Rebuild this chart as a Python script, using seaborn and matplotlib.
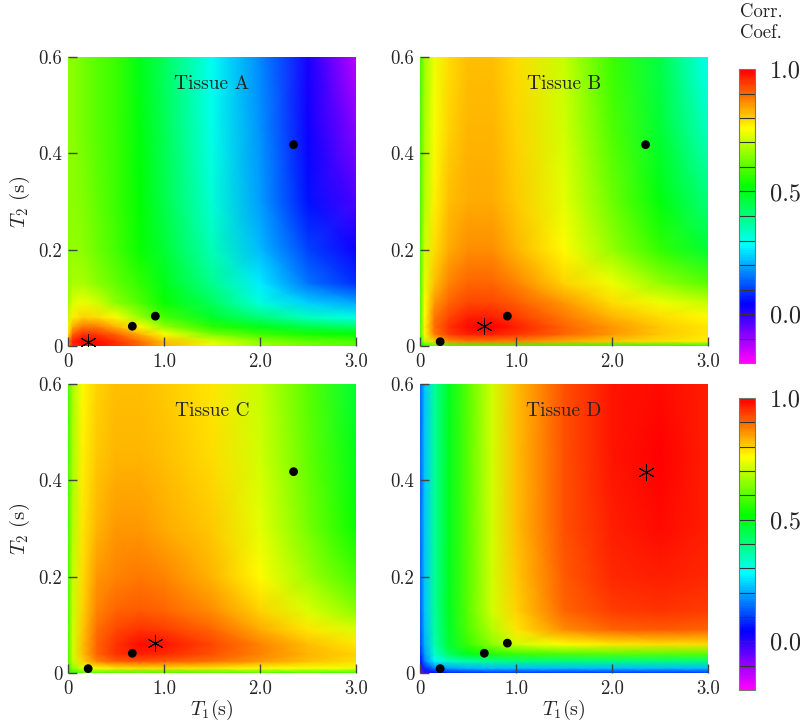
import numpy as np
import pandas as pd
import matplotlib
matplotlib.use("Agg")
import matplotlib.pyplot as plt
import seaborn as sns
from matplotlib.colors import ListedColormap, hsv_to_rgb

# ---------------- data ----------------
T1_GRID = [0, 0.05, 0.15, 0.3, 0.5, 0.75, 1.0, 1.5, 2.0, 2.5, 3.0]
T2_GRID = [0, 0.01, 0.025, 0.04, 0.06, 0.09, 0.13, 0.2, 0.3, 0.45, 0.6]

# rows follow T2_GRID (ascending), columns follow T1_GRID
CORR_A = [
    [0.85, 0.95, 0.98, 0.99, 0.96, 0.90, 0.83, 0.74, 0.67, 0.63, 0.60],
    [0.85, 0.97, 1.00, 0.99, 0.95, 0.89, 0.82, 0.72, 0.65, 0.61, 0.59],
    [0.78, 0.90, 0.95, 0.94, 0.90, 0.83, 0.75, 0.63, 0.57, 0.54, 0.52],
    [0.74, 0.84, 0.88, 0.88, 0.83, 0.76, 0.66, 0.55, 0.50, 0.45, 0.42],
    [0.70, 0.77, 0.80, 0.79, 0.75, 0.66, 0.58, 0.48, 0.40, 0.34, 0.30],
    [0.67, 0.72, 0.74, 0.71, 0.65, 0.59, 0.53, 0.43, 0.31, 0.24, 0.20],
    [0.66, 0.68, 0.68, 0.65, 0.61, 0.56, 0.50, 0.39, 0.26, 0.15, 0.09],
    [0.65, 0.66, 0.65, 0.62, 0.58, 0.53, 0.47, 0.35, 0.22, 0.10, 0.03],
    [0.65, 0.65, 0.64, 0.61, 0.57, 0.52, 0.45, 0.32, 0.19, 0.06, -0.03],
    [0.65, 0.65, 0.63, 0.60, 0.57, 0.51, 0.44, 0.30, 0.18, 0.03, -0.08],
    [0.65, 0.65, 0.63, 0.60, 0.57, 0.50, 0.43, 0.29, 0.17, 0.02, -0.13],
]
CORR_B = [
    [0.52, 0.56, 0.58, 0.58, 0.58, 0.58, 0.57, 0.56, 0.55, 0.55, 0.54],
    [0.56, 0.70, 0.80, 0.86, 0.88, 0.88, 0.87, 0.84, 0.81, 0.79, 0.77],
    [0.58, 0.76, 0.88, 0.94, 0.97, 0.97, 0.95, 0.90, 0.85, 0.81, 0.78],
    [0.58, 0.77, 0.89, 0.95, 0.99, 1.00, 0.97, 0.90, 0.85, 0.81, 0.78],
    [0.58, 0.76, 0.88, 0.93, 0.97, 0.97, 0.94, 0.88, 0.83, 0.79, 0.76],
    [0.58, 0.75, 0.85, 0.90, 0.93, 0.93, 0.91, 0.85, 0.79, 0.74, 0.70],
    [0.58, 0.73, 0.82, 0.87, 0.90, 0.90, 0.87, 0.80, 0.74, 0.66, 0.60],
    [0.58, 0.71, 0.79, 0.84, 0.86, 0.86, 0.83, 0.76, 0.66, 0.56, 0.47],
    [0.58, 0.69, 0.77, 0.82, 0.84, 0.84, 0.81, 0.73, 0.62, 0.51, 0.40],
    [0.58, 0.68, 0.75, 0.80, 0.83, 0.83, 0.80, 0.71, 0.59, 0.47, 0.34],
    [0.58, 0.67, 0.74, 0.79, 0.82, 0.82, 0.79, 0.70, 0.57, 0.45, 0.29],
]
CORR_C = [
    [0.54, 0.57, 0.58, 0.58, 0.58, 0.58, 0.58, 0.58, 0.58, 0.57, 0.56],
    [0.56, 0.65, 0.72, 0.76, 0.78, 0.79, 0.79, 0.78, 0.76, 0.75, 0.74],
    [0.58, 0.70, 0.80, 0.87, 0.91, 0.92, 0.91, 0.89, 0.85, 0.82, 0.79],
    [0.58, 0.71, 0.82, 0.90, 0.95, 0.97, 0.96, 0.92, 0.87, 0.83, 0.80],
    [0.58, 0.71, 0.82, 0.90, 0.95, 0.99, 0.98, 0.93, 0.87, 0.82, 0.78],
    [0.58, 0.71, 0.81, 0.89, 0.93, 0.95, 0.94, 0.90, 0.84, 0.78, 0.72],
    [0.58, 0.70, 0.80, 0.87, 0.90, 0.91, 0.90, 0.86, 0.80, 0.72, 0.65],
    [0.58, 0.70, 0.79, 0.85, 0.87, 0.88, 0.87, 0.83, 0.76, 0.67, 0.58],
    [0.58, 0.69, 0.78, 0.83, 0.85, 0.85, 0.84, 0.81, 0.73, 0.63, 0.53],
    [0.58, 0.68, 0.77, 0.81, 0.83, 0.83, 0.82, 0.79, 0.71, 0.61, 0.50],
    [0.58, 0.68, 0.76, 0.80, 0.82, 0.82, 0.81, 0.78, 0.70, 0.60, 0.47],
]
CORR_D = [
    [-0.12, -0.02, 0.04, 0.07, 0.08, 0.09, 0.09, 0.09, 0.09, 0.09, 0.09],
    [-0.02, 0.08, 0.15, 0.19, 0.21, 0.22, 0.22, 0.22, 0.22, 0.22, 0.22],
    [0.05, 0.16, 0.27, 0.34, 0.37, 0.39, 0.40, 0.40, 0.40, 0.40, 0.40],
    [0.08, 0.19, 0.33, 0.43, 0.50, 0.55, 0.57, 0.59, 0.60, 0.60, 0.60],
    [0.10, 0.21, 0.36, 0.47, 0.57, 0.65, 0.71, 0.76, 0.78, 0.79, 0.79],
    [0.11, 0.22, 0.37, 0.48, 0.59, 0.69, 0.78, 0.86, 0.90, 0.91, 0.90],
    [0.12, 0.23, 0.38, 0.49, 0.60, 0.71, 0.80, 0.90, 0.94, 0.95, 0.94],
    [0.13, 0.23, 0.38, 0.49, 0.60, 0.71, 0.81, 0.91, 0.96, 0.97, 0.96],
    [0.13, 0.23, 0.38, 0.49, 0.60, 0.71, 0.82, 0.92, 0.97, 0.99, 0.97],
    [0.13, 0.23, 0.38, 0.49, 0.60, 0.71, 0.82, 0.92, 0.98, 1.00, 0.97],
    [0.13, 0.23, 0.38, 0.49, 0.60, 0.71, 0.82, 0.92, 0.98, 0.99, 0.97],
]

TISSUE_NAMES = ["Tissue A", "Tissue B", "Tissue C", "Tissue D"]
TISSUE_T1 = [0.21, 0.67, 0.91, 2.35]
TISSUE_T2 = [0.009, 0.041, 0.062, 0.418]

X_TICKS = [0, 1.0, 2.0, 3.0]
X_TICKLABELS = ["0", "1.0", "2.0", "3.0"]
Y_TICKS = [0, 0.2, 0.4, 0.6]
Y_TICKLABELS = ["0", "0.2", "0.4", "0.6"]
CB_TICKS = [0.0, 0.5, 1.0]
CB_TICKLABELS = ["0.0", "0.5", "1.0"]
VMIN, VMAX = -0.2, 1.0

# ---------------- style ----------------
sns.set_style("white")
plt.rcParams["font.family"] = ["serif"]
plt.rcParams["font.serif"] = ["cmr10", "DejaVu Serif"]
plt.rcParams["mathtext.fontset"] = "cm"
plt.rcParams["axes.formatter.use_mathtext"] = True

# colormap: hue sweeps red -> magenta
lev = np.linspace(0, 1, 128)
hsv = np.stack([lev * (300.0 / 360.0), np.ones_like(lev), np.ones_like(lev)], axis=1)
cmap = ListedColormap(hsv_to_rgb(hsv)[::-1])

fig = plt.figure(figsize=(8.0, 7.25), dpi=100)

W = 288 / 800
H = 289 / 725
positions = [
    [68 / 800, 1 - 346 / 725, W, H],
    [420 / 800, 1 - 346 / 725, W, H],
    [68 / 800, 1 - 673 / 725, W, H],
    [420 / 800, 1 - 673 / 725, W, H],
]
fields = [CORR_A, CORR_B, CORR_C, CORR_D]

XX, YY = np.meshgrid(np.array(T1_GRID), np.array(T2_GRID))
mappable = None
for i, (pos, field) in enumerate(zip(positions, fields)):
    ax = fig.add_axes(pos)
    mappable = ax.pcolormesh(XX, YY, np.array(field), shading="gouraud",
                             cmap=cmap, vmin=VMIN, vmax=VMAX, zorder=1)
    others = [j for j in range(4) if j != i]
    df = pd.DataFrame({"T1": [TISSUE_T1[j] for j in others],
                       "T2": [TISSUE_T2[j] for j in others]})
    sns.scatterplot(data=df, x="T1", y="T2", ax=ax, color="black", s=40,
                    edgecolor="none", zorder=5, clip_on=False)
    ax.plot([TISSUE_T1[i]], [TISSUE_T2[i]], linestyle="none",
            marker=(6, 2, 0), markersize=12, markeredgewidth=0.7,
            color="black", zorder=6)
    ax.text(1.5, 0.543, TISSUE_NAMES[i], ha="center", va="center", fontsize=14)
    ax.set_xlim(0, 3.0)
    ax.set_ylim(0, 0.6)
    ax.set_xticks(X_TICKS)
    ax.set_xticklabels(X_TICKLABELS)
    ax.set_yticks(Y_TICKS)
    ax.set_yticklabels(Y_TICKLABELS)
    ax.tick_params(direction="in", length=6.5, width=1.0, color="#444444",
                   labelsize=13.5, bottom=True, left=True, top=False, right=False)
    ax.tick_params(axis="x", pad=5)
    ax.tick_params(axis="y", pad=4)
    for t in ax.xaxis.get_major_ticks() + ax.yaxis.get_major_ticks():
        t.tick1line.set_zorder(10)
    ax.set_axisbelow(False)
    for sp in ax.spines.values():
        sp.set_visible(False)
    ax.set_xlabel("")
    ax.set_ylabel("")
    if i in (0, 2):
        ax.set_ylabel(r"$T_2$ (s)", fontsize=15, labelpad=5)
    if i in (2, 3):
        ax.set_xlabel(r"$T_1$(s)", fontsize=14.5, labelpad=0)

# colorbars
cb_positions = [
    [739 / 800, 1 - 363 / 725, 16 / 800, 294 / 725],
    [739 / 800, 1 - 690 / 725, 16 / 800, 292 / 725],
]
for cpos in cb_positions:
    cax = fig.add_axes(cpos)
    cb = fig.colorbar(mappable, cax=cax, ticks=CB_TICKS)
    cb.set_ticklabels(CB_TICKLABELS)
    cb.outline.set_edgecolor("#777777")
    cb.outline.set_linewidth(0.8)
    cax.tick_params(length=0, labelsize=17.5, pad=11)
    for v in np.arange(-0.1, 0.95, 0.1):
        cax.axhline(v, color="#333333", linewidth=0.8)

fig.text(740 / 800, 1 - 3 / 725, "Corr.\nCoef.", ha="left", va="top", fontsize=13.5,
         linespacing=1.25)

fig.savefig("out.png", dpi=100)
